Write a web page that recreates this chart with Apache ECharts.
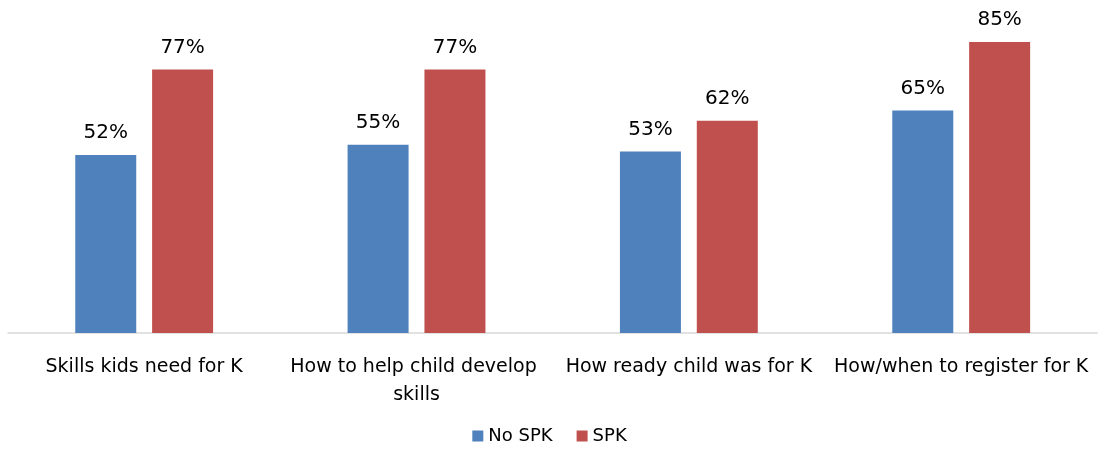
<!DOCTYPE html>
<html>
<head>
<meta charset="utf-8">
<script src="https://cdn.jsdelivr.net/npm/echarts@6/dist/echarts.min.js"></script>
<style>html,body{margin:0;padding:0;background:#fff}#c{width:1099px;height:449px}</style>
</head>
<body>
<div id="c"></div>
<script>
var categories = ['Skills kids need for K', 'How to help child develop skills', 'How ready child was for K', 'How/when to register for K'];
var noSpk = [52, 55, 53, 65];
var spk = [77, 77, 62, 85];
var seriesNames = ['No SPK', 'SPK'];

var FONT = "'Century Gothic', 'DejaVu Sans', sans-serif";
var chart = echarts.init(document.getElementById('c'));
chart.setOption({
  animation: false,
  textStyle: { fontFamily: FONT },
  grid: { left: 8, right: 0, top: 25, bottom: 116 },
  legend: {
    data: seriesNames,
    bottom: -1,
    left: 'center',
    itemWidth: 11,
    itemHeight: 11,
    itemGap: 24,
    icon: 'rect',
    textStyle: { fontFamily: FONT, fontSize: 18, color: '#000' }
  },
  xAxis: {
    type: 'category',
    data: categories,
    axisLine: { lineStyle: { color: '#d9d9d9', width: 1.5 } },
    axisTick: { show: false },
    axisLabel: {
      interval: 0,
      fontFamily: FONT,
      fontSize: 19,
      color: '#000',
      margin: 20,
      lineHeight: 28,
      width: 270,
      overflow: 'break'
    }
  },
  yAxis: {
    type: 'value',
    min: 0,
    max: 90,
    show: false,
    splitLine: { show: false }
  },
  series: [
    {
      name: seriesNames[0],
      type: 'bar',
      data: noSpk,
      barWidth: 61,
      barGap: '26%',
      itemStyle: { color: '#4F81BD' },
      label: { show: true, position: 'top', distance: 12, formatter: '{c}%', fontFamily: FONT, fontSize: 20, color: '#000' }
    },
    {
      name: seriesNames[1],
      type: 'bar',
      data: spk,
      barWidth: 61,
      barGap: '26%',
      itemStyle: { color: '#C0504D' },
      label: { show: true, position: 'top', distance: 12, formatter: '{c}%', fontFamily: FONT, fontSize: 20, color: '#000' }
    }
  ]
});
</script>
</body>
</html>
